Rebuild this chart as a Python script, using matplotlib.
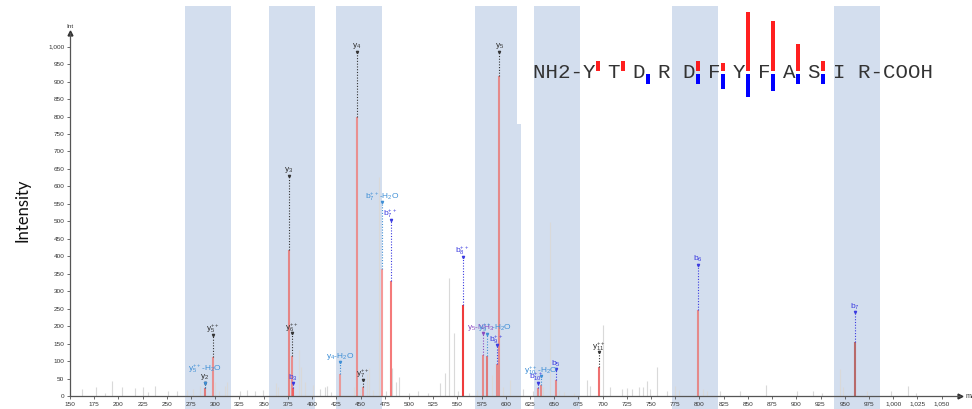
import matplotlib
matplotlib.use("Agg")
import matplotlib.pyplot as plt
from matplotlib.ticker import FuncFormatter

plt.rcParams['mathtext.default'] = 'regular'
plt.rcParams['font.family'] = ['Liberation Sans', 'DejaVu Sans']

# --- data ---
# shaded m/z windows
band_lo = [268.7, 355.5, 424.6, 568.1, 629.0, 771.5, 938.8]
band_hi = [316.2, 402.9, 471.8, 611.5, 676.5, 819.0, 986.3]

# unassigned (grey) peaks
noise_mz = [162, 176.8, 186, 193, 203.4, 217.1, 225, 231, 237.8, 251.5, 260.2, 270.5,
            277.3, 284.2, 299.7, 304, 310, 311.8, 325.5, 332.4, 341, 349.6, 362.7, 365,
            386.7, 388.5, 392.6, 401.2, 408.1, 413.3, 415.6, 420, 443.2, 449.5, 456.3,
            459, 463, 468.7, 476, 482, 486.6, 490, 500, 509.6, 520, 532, 537, 541.3,
            546.4, 551, 562, 570, 585.4, 597, 604.3, 617.3, 628.3, 631.8, 638, 645.5,
            655, 660, 670, 683.4, 687, 700.6, 707.5, 719.6, 725.4, 729.9, 737.5, 741.9,
            745.4, 748.8, 755.7, 766, 774.6, 779, 803.8, 807.3, 821, 841.7, 868.6,
            900.2, 917.4, 926, 945, 948.4, 972.5, 997.3, 1015.5, 1024]
noise_int = [20, 27, 10, 43, 25, 23, 25, 12, 28, 13, 13, 18,
             20, 30, 41, 15, 30, 41, 13, 18, 13, 16, 38, 27,
             131, 84, 41, 31, 20, 25, 30, 12, 27, 20, 63,
             79, 18, 628, 15, 79, 41, 53, 10, 13, 8, 36, 65, 337,
             180, 15, 10, 18, 60, 25, 46, 20, 15, 25, 25, 499,
             18, 12, 10, 46, 30, 203, 25, 20, 22, 20, 27, 25,
             44, 20, 84, 13, 30, 18, 20, 15, 13, 15, 31,
             13, 15, 10, 77, 25, 13, 13, 29, 10]

# assigned peaks
peak_mz = [289.4, 298.0, 375.8, 379.5, 380.5, 428.8, 446.0, 452.2, 472.4, 481.1,
           555.4, 576.0, 580.8, 590.5, 593.2, 633.6, 636.0, 651.7, 696.2, 798.7, 960.8]
peak_int = [22, 112, 418, 114, 22, 63, 798, 27, 363, 330,
            260, 117, 114, 93, 917, 22, 31, 46, 84, 246, 155]
peak_col = ['#e07a7a', '#e98f8f', '#e58585', '#e98f8f', '#ef6060', '#e99a9a', '#e99090',
            '#e99090', '#f59a9a', '#f47a7a', '#ef3c3c', '#e58a8a', '#e07a7a', '#e58a8a',
            '#e58a8a', '#e58a8a', '#e58a8a', '#e58a8a', '#ef7070', '#e58a8a', '#b86a6a']

# fragment annotations
lab_mz = [289.4, 289.4, 298.0, 375.8, 379.5, 380.5, 428.8, 446.0, 452.2, 472.4, 481.1,
          555.4, 576.0, 580.8, 590.5, 593.2, 633.6, 636.0, 651.7, 696.2, 798.7, 960.8]
lab_text = [r'$y_2$', r'$y_5^{++}$-H$_2$O', r'$y_5^{++}$', r'$y_3$', r'$y_6^{++}$', r'$b_3$',
            r'$y_4$-H$_2$O', r'$y_4$', r'$y_7^{++}$', r'$b_7^{++}$-H$_2$O', r'$b_7^{++}$',
            r'$b_8^{++}$', r'$y_5$-NH$_3$', r'$y_9^{++}$-H$_2$O', r'$b_9^{++}$', r'$y_5$',
            r'$b_{10}^{++}$', r'$y_{10}^{++}$-H$_2$O', r'$b_5$', r'$y_{11}^{++}$', r'$b_6$', r'$b_7$']
lab_y = [55, 77, 192, 647, 194, 52, 113, 1002, 63, 571, 521,
         416, 195, 195, 162, 1002, 55, 72, 93, 141, 391, 256]
lab_mark = [38, 38, 175, 631, 180, 38, 97, 986, 46, 556, 504,
            399, 180, 177, 146, 986, 36, 57, 76, 127, 375, 241]
lab_col = ['#333333', '#3f8fd6', '#333333', '#333333', '#333333', '#3a3ae0',
           '#3f8fd6', '#333333', '#333333', '#3f8fd6', '#3a3ae0',
           '#3a3ae0', '#8a4cc0', '#3f8fd6', '#3a3ae0', '#333333',
           '#3a3ae0', '#3f8fd6', '#3a3ae0', '#333333', '#3a3ae0', '#3a3ae0']
lab_dx = [0, 0, 0, 0, 0, 0, 0, 0, 0, 0, 0, 0, -2, 8, 0, 0, -2, 0, 0, 0, 0, 0]

# peptide sequence with fragment coverage bars (height in px)
sequence = "NH2-Y T D R D F Y F A S I R-COOH"
gap_cells = [5, 7, 9, 11, 13, 15, 17, 19, 21, 23, 25]
b_cov = [10, 10, 0, 0, 10, 7.7, 59.3, 50.3, 27, 10, 0]
y_cov = [0, 0, 10.3, 0, 10.3, 15.3, 22.7, 16.7, 10.3, 10.3, 0]

W, H = 972, 409
fig = plt.figure(figsize=(W / 100, H / 100), dpi=100)
ax = fig.add_axes([70 / W, 13 / H, 890 / W, 363 / H])
ax.set_xlim(150, 1069)
ax.set_ylim(0, 1039)
ax.patch.set_alpha(0)

band_col = '#d3deee'
for lo, hi in zip(band_lo, band_hi):
    ax.axvspan(lo, hi, ymin=-0.06, ymax=1.0744, color=band_col, lw=0, zorder=0, clip_on=False)
# small step on the right edge of the 4th window
ax.axvspan(band_hi[3], 615.6, ymin=-0.06, ymax=0.749, color=band_col, lw=0, zorder=0, clip_on=False)

ax.vlines(noise_mz, 0, noise_int, color='#d9d9d9', lw=0.8, zorder=1)
ax.vlines(peak_mz, 0, peak_int, color=peak_col, lw=1.5, zorder=2)

top = dict(zip(peak_mz, peak_int))
for mz, txt, ty, my, c, dx in zip(lab_mz, lab_text, lab_y, lab_mark, lab_col, lab_dx):
    ax.plot([mz, mz], [top[mz], my], ls=(0, (1, 1.5)), color=c, lw=0.8, zorder=3)
    ax.plot(mz, my, marker='v', ms=1.6, color=c, mec=c, zorder=3)
    ax.text(mz + dx, ty, txt, color=c, fontsize=6, ha='center', va='center', zorder=4)

for s in ['top', 'right']:
    ax.spines[s].set_visible(False)
for s in ['left', 'bottom']:
    ax.spines[s].set_color('#555555')
    ax.spines[s].set_linewidth(0.9)
ax.plot(1, 0, marker='>', ms=3.5, color='#333333', transform=ax.transAxes, clip_on=False)
ax.plot(0, 1, marker='^', ms=3.5, color='#333333', transform=ax.transAxes, clip_on=False)

ax.set_xticks(list(range(150, 1051, 25)))
ax.set_yticks(list(range(0, 1001, 50)))
fmt = FuncFormatter(lambda v, p: f"{int(v):,}")
ax.xaxis.set_major_formatter(fmt)
ax.yaxis.set_major_formatter(fmt)
ax.tick_params(axis='both', labelsize=4.6, colors='#555555', labelcolor='#333333',
               length=2.5, width=0.6, pad=1.5)
ax.text(0, 1.012, 'Int', transform=ax.transAxes, fontsize=4.6, ha='center', va='bottom',
        color='#333333')
ax.text(1.006, 0, 'm/z', transform=ax.transAxes, fontsize=5, ha='left', va='center',
        color='#333333')

fig.text(22 / W, 1 - 210 / H, 'Intensity', rotation=90, ha='center', va='center',
         fontsize=12, family='Lato', color='#111111')

# peptide sequence panel
sx = fig.add_axes([533 / W, 1 - 100 / H, 400 / W, 100 / H])
sx.set_xlim(0, 32)
sx.set_ylim(100, 0)
sx.axis('off')
sx.patch.set_alpha(0)
sx.bar([g + 0.02 for g in gap_cells], [-h for h in b_cov], bottom=71, width=0.36,
       align='edge', color='#ff0000', alpha=0.88, lw=0)
sx.bar([g + 0.02 for g in gap_cells], y_cov, bottom=74, width=0.36,
       align='edge', color='#0000ff', lw=0)
sx.text(0, 78.3, sequence, family='Liberation Mono', fontsize=15, ha='left',
        va='baseline', color='#333333')

fig.savefig('out.png', dpi=100)
